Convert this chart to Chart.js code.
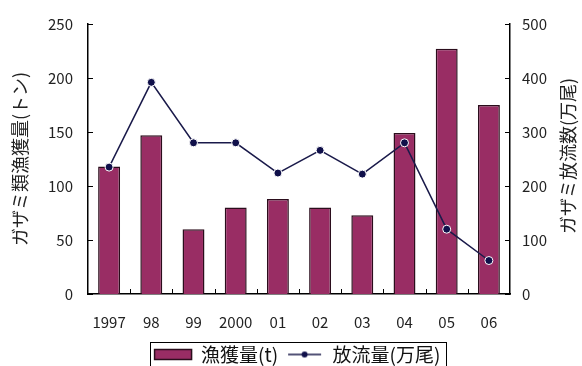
<!DOCTYPE html>
<html>
<head>
<meta charset="utf-8">
<script src="https://cdn.jsdelivr.net/npm/chart.js@4.4.0/dist/chart.umd.min.js"></script>
<style>
  html, body { margin: 0; padding: 0; background: #fff; }
</style>
</head>
<body>
<canvas id="grafico" width="582" height="366"></canvas>
<script>
const years = ["1997", "98", "99", "2000", "01", "02", "03", "04", "05", "06"];
const catch_t = [118, 147, 60, 80, 88, 80, 73, 149, 227, 175];
const release = [235, 392, 280, 280, 224, 266, 222, 280, 120, 62];
const leftTicks = [0, 50, 100, 150, 200, 250];
const rightTicks = [0, 100, 200, 300, 400, 500];

Chart.defaults.font.family = "'Noto Sans CJK JP', sans-serif";
Chart.defaults.color = "#222";

// legend icon for the line series (line + marker)
const lineIcon = document.createElement("canvas");
lineIcon.width = 37;
lineIcon.height = 10;
{
  const c = lineIcon.getContext("2d");
  c.strokeStyle = "#1a1a4a";
  c.lineWidth = 1.5;
  c.beginPath();
  c.moveTo(2, 5);
  c.lineTo(35, 5);
  c.stroke();
  c.fillStyle = "#10104a";
  c.beginPath();
  c.arc(18.5, 5, 3, 0, Math.PI * 2);
  c.fill();
}

const extras = {
  id: "extras",
  afterDraw(chart) {
    const ctx = chart.ctx;
    const { x, y, y1 } = chart.scales;
    ctx.save();
    ctx.strokeStyle = "#000";
    ctx.lineWidth = 1;

    // inward tick marks
    y.ticks.forEach(t => {
      const py = Math.round(y.getPixelForValue(t.value)) + 0.5;
      ctx.beginPath(); ctx.moveTo(y.right, py); ctx.lineTo(y.right + 5, py); ctx.stroke();
    });
    y1.ticks.forEach(t => {
      const py = Math.round(y1.getPixelForValue(t.value)) + 0.5;
      ctx.beginPath(); ctx.moveTo(y1.left, py); ctx.lineTo(y1.left - 5, py); ctx.stroke();
    });
    const half = (x.getPixelForValue(1) - x.getPixelForValue(0)) / 2;
    for (let i = 1; i < years.length; i++) {
      const px = Math.round(x.getPixelForValue(i) - half) + 0.5;
      ctx.beginPath(); ctx.moveTo(px, x.top); ctx.lineTo(px, x.top - 5); ctx.stroke();
    }

    // right axis title, reading bottom to top
    ctx.fillStyle = "#222";
    ctx.font = "18px 'Noto Sans CJK JP', sans-serif";
    ctx.textAlign = "center";
    ctx.textBaseline = "middle";
    ctx.translate(568, (chart.chartArea.top + chart.chartArea.bottom) / 2 - 3);
    ctx.rotate(-Math.PI / 2);
    ctx.fillText("ガザミ放流数(万尾)", 0, 0);
    ctx.restore();

    // legend frame
    const hb = chart.legend.legendHitBoxes;
    if (hb && hb.length) {
      const last = hb[hb.length - 1];
      const l = Math.round(hb[0].left - 5) + 0.5;
      const r = Math.round(last.left + last.width + 6) + 0.5;
      const t = Math.round(hb[0].top - 3) + 0.5;
      ctx.save();
      ctx.strokeStyle = "#000";
      ctx.lineWidth = 1;
      ctx.strokeRect(l, t, r - l, 400 - t);
      ctx.restore();
    }
  }
};

new Chart(document.getElementById("grafico").getContext("2d"), {
  data: {
    labels: years,
    datasets: [
      {
        type: "bar",
        label: "漁獲量(t)",
        data: catch_t,
        yAxisID: "y",
        order: 1,
        backgroundColor: "#992d64",
        borderColor: "#2b0d1c",
        borderWidth: 1.5,
        categoryPercentage: 1,
        barPercentage: 0.52
      },
      {
        type: "line",
        label: "放流量(万尾)",
        data: release,
        yAxisID: "y1",
        order: 0,
        borderColor: "#1a1a4a",
        borderWidth: 1.5,
        tension: 0,
        pointRadius: 4,
        pointBackgroundColor: "#10104a",
        pointBorderColor: "#fff",
        pointBorderWidth: 1
      }
    ]
  },
  options: {
    responsive: false,
    animation: false,
    layout: { padding: { top: 22, left: 13, right: 0, bottom: -8 } },
    plugins: {
      tooltip: { enabled: false },
      legend: {
        position: "bottom",
        labels: {
          usePointStyle: true,
          pointStyleWidth: 37,
          boxHeight: 10,
          padding: 8,
          color: "#111",
          font: { size: 19 },
          sort: (a, b) => a.datasetIndex - b.datasetIndex,
          generateLabels: chart => {
            const items = Chart.defaults.plugins.legend.labels.generateLabels(chart);
            items.forEach(it => {
              it.pointStyle = it.datasetIndex === 1 ? lineIcon : "rect";
            });
            return items;
          }
        }
      }
    },
    scales: {
      x: {
        grid: { display: false, drawTicks: false },
        border: { color: "#000", width: 1.5 },
        ticks: { padding: 19, font: { size: 15 }, maxRotation: 0, autoSkip: false },
        afterFit: s => { s.height = 366 + 8 - 294 - s.chart.legend.height; }
      },
      y: {
        position: "left",
        min: 0,
        max: 250,
        afterBuildTicks: s => { s.ticks = leftTicks.map(v => ({ value: v })); },
        grid: { display: false, drawTicks: false },
        border: { color: "#000", width: 1.5 },
        ticks: { padding: 15, font: { size: 15 } },
        title: {
          display: true,
          text: "ガザミ類漁獲量(トン)",
          font: { size: 18 },
          color: "#222",
          padding: { top: -4, bottom: 0 }
        },
        afterFit: s => { s.width = 75; }
      },
      y1: {
        position: "right",
        min: 0,
        max: 500,
        afterBuildTicks: s => { s.ticks = rightTicks.map(v => ({ value: v })); },
        grid: { display: false, drawTicks: false },
        border: { color: "#000", width: 1.5 },
        ticks: { padding: 12, font: { size: 15 } },
        afterFit: s => { s.width = 72; }
      }
    }
  },
  plugins: [extras]
});
</script>
</body>
</html>
